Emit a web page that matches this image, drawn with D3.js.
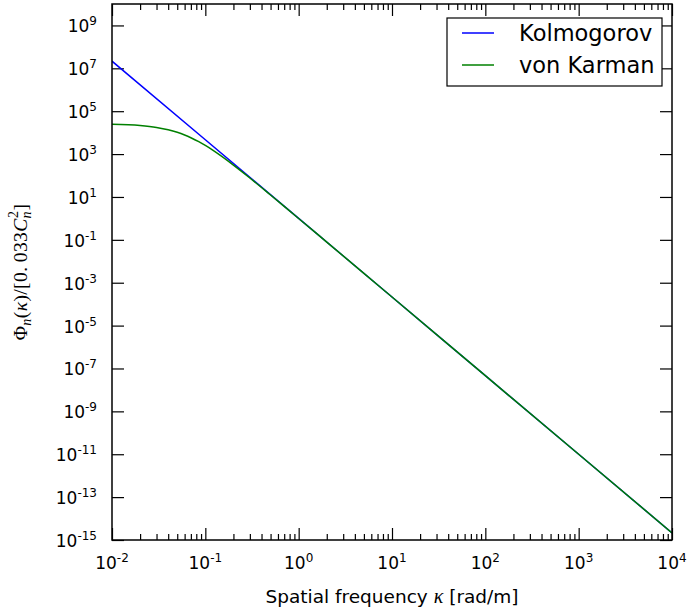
<!DOCTYPE html>
<html>
<head>
<meta charset="utf-8">
<script src="https://cdn.jsdelivr.net/npm/d3@7"></script>
<style>
  body { margin: 0; background: #fff; }
  svg { display: block; }
</style>
</head>
<body>
<script>
// Kolmogorov spectrum, sampled per decade (straight line on log-log axes)
const kappaKolmogorov = [0.01, 0.1, 1, 10, 100, 1000, 10000];
const phiKolmogorov   = [2.15e7, 4.64e3, 1.0, 2.15e-4, 4.64e-8, 1.0e-11, 2.15e-15];

// von Karman spectrum, denser samples around the outer-scale knee
const kappaVonKarman = [0.01, 0.02, 0.03, 0.04, 0.05, 0.06, 0.07, 0.085, 0.1, 0.12, 0.15,
                        0.2, 0.25, 0.3, 0.4, 0.5, 0.7, 1, 2, 5, 10, 100, 1000, 10000];
const phiVonKarman   = [2.44e4, 2.14e4, 1.75e4, 1.37e4, 1.04e4, 7.78e3, 5.81e3, 3.79e3, 2.52e3, 1.53e3, 780,
                        307, 144, 76.4, 27.5, 12.3, 3.64, 0.993, 0.0786, 2.74e-3, 2.15e-4, 4.64e-8, 1.0e-11, 2.15e-15];

const seriesNames  = ["Kolmogorov", "von Karman"];
const seriesColors = ["#0000ff", "#008000"];

// tick exponents
const xTickExponents = [-2, -1, 0, 1, 2, 3, 4];
const yTickExponents = [-15, -13, -11, -9, -7, -5, -3, -1, 1, 3, 5, 7, 9];

const W = 689, H = 614;
const plotLeft = 112, plotRight = 672, plotTop = 4, plotBottom = 540;

const svg = d3.select("body").append("svg")
  .attr("width", W).attr("height", H)
  .attr("font-family", "DejaVu Sans");

const x = d3.scaleLog().domain([1e-2, 1e4]).range([plotLeft, plotRight]);
const y = d3.scaleLog().domain([1e-15, 1e10]).range([plotBottom, plotTop]);

// minor x ticks: 2..9 within each decade
const xMinor = [];
for (let e = -2; e < 4; e++) for (let m = 2; m <= 9; m++) xMinor.push(m * Math.pow(10, e));
const xMajor = xTickExponents.map(e => Math.pow(10, e));
const yMajor = yTickExponents.map(e => Math.pow(10, e));

const MAJ = 12, MIN = 6;

function tickAxis(gen, transform) {
  const g = svg.append("g").attr("transform", transform).call(gen);
  g.select(".domain").remove();
  g.selectAll("text").remove();
  g.selectAll("line").attr("stroke", "#000").attr("stroke-width", 1.2);
  return g;
}

// bottom & top ticks (inward)
tickAxis(d3.axisBottom(x).tickValues(xMajor).tickSizeInner(-MAJ).tickSizeOuter(0), `translate(0,${plotBottom})`);
tickAxis(d3.axisBottom(x).tickValues(xMinor).tickSizeInner(-MIN).tickSizeOuter(0), `translate(0,${plotBottom})`);
tickAxis(d3.axisTop(x).tickValues(xMajor).tickSizeInner(-MAJ).tickSizeOuter(0), `translate(0,${plotTop})`);
tickAxis(d3.axisTop(x).tickValues(xMinor).tickSizeInner(-MIN).tickSizeOuter(0), `translate(0,${plotTop})`);
// left & right ticks (inward)
tickAxis(d3.axisLeft(y).tickValues(yMajor).tickSizeInner(-MAJ).tickSizeOuter(0), `translate(${plotLeft},0)`);
tickAxis(d3.axisRight(y).tickValues(yMajor).tickSizeInner(-MAJ).tickSizeOuter(0), `translate(${plotRight},0)`);

// curves
const line = d3.line()
  .x(d => x(d[0]))
  .y(d => y(d[1]))
  .curve(d3.curveMonotoneX);

const series = [
  d3.zip(kappaKolmogorov, phiKolmogorov),
  d3.zip(kappaVonKarman, phiVonKarman)
];

const plot = svg.append("g");
plot.append("clipPath").attr("id", "clip")
  .append("rect").attr("x", plotLeft).attr("y", plotTop)
  .attr("width", plotRight - plotLeft).attr("height", plotBottom - plotTop);
series.forEach((s, i) => {
  plot.append("path")
    .attr("d", line(s))
    .attr("fill", "none")
    .attr("stroke", seriesColors[i])
    .attr("stroke-width", 1.5)
    .attr("clip-path", "url(#clip)");
});

// frame
svg.append("rect")
  .attr("x", plotLeft).attr("y", plotTop)
  .attr("width", plotRight - plotLeft).attr("height", plotBottom - plotTop)
  .attr("fill", "none").attr("stroke", "#000").attr("stroke-width", 1.5);

// power-of-ten label helper
function powLabel(sel, e) {
  sel.append("tspan").text("10");
  sel.append("tspan").attr("font-size", 12).attr("dy", -7).text(String(e));
}

// x tick labels
xTickExponents.forEach(e => {
  const t = svg.append("text")
    .attr("x", x(Math.pow(10, e))).attr("y", 569)
    .attr("text-anchor", "middle").attr("font-size", 17).attr("fill", "#000");
  powLabel(t, e);
});

// y tick labels
yTickExponents.forEach(e => {
  const t = svg.append("text")
    .attr("x", 97).attr("y", y(Math.pow(10, e)) + 7)
    .attr("text-anchor", "end").attr("font-size", 17).attr("fill", "#000");
  powLabel(t, e);
});

// x axis title
const xt = svg.append("text")
  .attr("x", (plotLeft + plotRight) / 2).attr("y", 603)
  .attr("text-anchor", "middle").attr("font-size", 18.5).attr("fill", "#000");
xt.append("tspan").text("Spatial frequency ");
xt.append("tspan").attr("font-family", "Liberation Serif").attr("font-style", "italic").attr("font-size", 20).text("κ");
xt.append("tspan").text(" [rad/m]");

// y axis title
const yt = svg.append("text")
  .attr("transform", `translate(27,${(plotTop + plotBottom) / 2}) rotate(-90)`)
  .attr("text-anchor", "middle")
  .attr("font-family", "Liberation Serif").attr("font-size", 19.5)
  .attr("letter-spacing", 0.4).attr("fill", "#000");
yt.append("tspan").text("Φ");
yt.append("tspan").attr("font-style", "italic").attr("font-size", 14).attr("dy", 4).text("n");
yt.append("tspan").attr("dy", -4).text("(");
yt.append("tspan").attr("font-style", "italic").text("κ");
yt.append("tspan").text(")/[0.\u2009033");
yt.append("tspan").attr("font-style", "italic").text("C");
yt.append("tspan").attr("font-style", "italic").attr("font-size", 14).attr("dy", 4).text("n");
yt.append("tspan").attr("font-size", 14).attr("dx", -7).attr("dy", -13).text("2");
yt.append("tspan").attr("dy", 9).text("]");

// legend
const lg = svg.append("g");
lg.append("rect")
  .attr("x", 447).attr("y", 18).attr("width", 215).attr("height", 68)
  .attr("fill", "#fff").attr("stroke", "#000").attr("stroke-width", 1.2);
const legendRows = [33, 65];
seriesNames.forEach((name, i) => {
  lg.append("line")
    .attr("x1", 462).attr("x2", 494)
    .attr("y1", legendRows[i]).attr("y2", legendRows[i])
    .attr("stroke", seriesColors[i]).attr("stroke-width", 1.5);
  lg.append("text")
    .attr("x", 519).attr("y", legendRows[i] + 8)
    .attr("font-size", 22.5).attr("fill", "#000")
    .text(name);
});
</script>
</body>
</html>
